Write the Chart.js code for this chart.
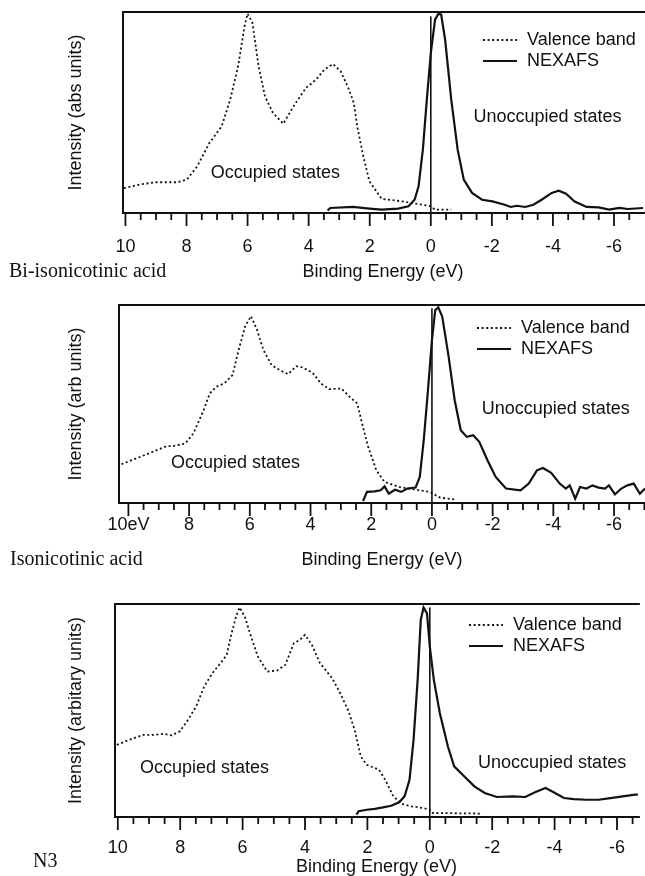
<!DOCTYPE html>
<html>
<head>
<meta charset="utf-8">
<script src="https://cdn.jsdelivr.net/npm/chart.js@4/dist/chart.umd.min.js"></script>
<style>
  html, body { margin: 0; padding: 0; background: #fff; }
  #wrap { position: relative; width: 645px; height: 876px; overflow: hidden; }
  .panel { position: absolute; left: 0; }
</style>
</head>
<body>
<div id="wrap">
  <canvas id="c1" class="panel" width="645" height="290" style="top:0"></canvas>
  <canvas id="c2" class="panel" width="645" height="290" style="top:290px"></canvas>
  <canvas id="c3" class="panel" width="645" height="300" style="top:580px"></canvas>
</div>
<script>
// ---- data -----------------------------------------------------------------
const seriesNames = ['Valence band', 'NEXAFS'];
const tickValues = [10, 8, 6, 4, 2, 0, -2, -4, -6];
const tickLabels1 = ['10', '8', '6', '4', '2', '0', '-2', '-4', '-6'];
const tickLabels2 = ['10eV', '8', '6', '4', '2', '0', '-2', '-4', '-6'];
const tickLabels3 = ['10', '8', '6', '4', '2', '0', '-2', '-4', '-6'];

// Bi-isonicotinic acid
const valenceE1 = [10.05, 9.5, 8.99, 8.32, 7.99, 7.65, 7.25, 6.85, 6.57, 6.31, 6.10, 6.00, 5.84, 5.64, 5.43, 5.17, 4.83, 4.50, 4.09, 3.76, 3.49, 3.20, 2.95, 2.68, 2.52, 2.41, 2.21, 2.01, 1.61, 0.94, 0.26, 0.0, -0.14, -0.67];
const valenceI1 = [12.4, 14.3, 15.3, 15.3, 16.6, 23.2, 34.8, 43.1, 56.4, 73.0, 92.9, 99.2, 94.5, 73.0, 58.0, 49.8, 44.4, 53.0, 62.2, 66.3, 71.3, 74.1, 70.5, 61.4, 54.7, 43.1, 28.2, 15.8, 7.0, 5.8, 4.1, 3.3, 1.7, 1.7];
const nexafsE1 = [3.38, 3.29, 2.55, 2.01, 1.61, 1.07, 0.73, 0.53, 0.40, 0.26, 0.13, 0.0, -0.14, -0.25, -0.34, -0.47, -0.67, -0.88, -1.08, -1.35, -1.68, -2.02, -2.42, -2.62, -2.82, -3.09, -3.36, -3.63, -3.96, -4.19, -4.43, -4.70, -5.10, -5.50, -5.84, -6.18, -6.45, -6.95];
const nexafsI1 = [1.3, 2.5, 3.0, 2.2, 1.7, 2.2, 3.3, 6.6, 13.3, 31.5, 56.4, 79.6, 96.2, 99.2, 98.7, 86.2, 56.4, 31.5, 16.6, 10.0, 6.6, 5.8, 4.1, 3.0, 3.6, 3.0, 4.1, 6.6, 10.0, 11.1, 9.6, 5.8, 3.0, 2.8, 1.7, 2.5, 2.0, 2.5];

// Isonicotinic acid
const valenceE2 = [10.23, 9.76, 9.21, 8.74, 8.54, 8.13, 7.86, 7.52, 7.32, 7.11, 6.84, 6.57, 6.37, 6.16, 5.96, 5.76, 5.55, 5.28, 5.01, 4.74, 4.47, 4.27, 3.93, 3.66, 3.39, 2.98, 2.71, 2.46, 2.30, 2.10, 1.83, 1.56, 1.08, 0.54, 0.07, -0.27, -0.82];
const valenceI2 = [19.6, 22.4, 25.8, 28.7, 28.7, 30.0, 35.1, 46.9, 55.3, 58.7, 60.4, 64.6, 77.2, 89.0, 94.4, 87.4, 77.2, 69.6, 67.1, 65.1, 69.1, 68.5, 65.8, 60.4, 57.5, 57.8, 53.6, 50.3, 40.1, 28.3, 16.5, 10.6, 8.1, 6.7, 5.6, 2.7, 1.7];
const nexafsE2 = [2.27, 2.14, 1.89, 1.69, 1.56, 1.42, 1.22, 1.01, 0.81, 0.54, 0.40, 0.27, 0.13, 0.0, -0.11, -0.21, -0.34, -0.55, -0.75, -0.95, -1.15, -1.36, -1.56, -1.83, -2.10, -2.44, -2.92, -3.19, -3.46, -3.66, -3.93, -4.21, -4.41, -4.54, -4.72, -4.88, -5.09, -5.29, -5.49, -5.70, -5.83, -6.03, -6.24, -6.44, -6.65, -6.85, -7.02];
const nexafsI2 = [1.0, 5.6, 5.9, 6.4, 8.4, 4.7, 6.7, 5.6, 7.3, 7.8, 13.2, 31.7, 57.0, 82.3, 97.5, 98.8, 94.1, 73.9, 51.9, 36.8, 33.4, 34.2, 30.9, 21.6, 13.2, 7.3, 6.4, 9.8, 16.5, 17.7, 15.2, 9.8, 7.3, 8.9, 2.2, 8.1, 7.3, 8.9, 7.8, 7.3, 8.9, 4.4, 7.3, 8.9, 9.8, 4.7, 7.3];

// N3
const valenceE3 = [10.03, 9.57, 9.18, 8.79, 8.53, 8.27, 8.01, 7.75, 7.49, 7.23, 6.97, 6.71, 6.51, 6.38, 6.21, 6.10, 5.93, 5.73, 5.51, 5.21, 4.89, 4.63, 4.36, 4.17, 4.00, 3.78, 3.52, 3.13, 2.87, 2.60, 2.41, 2.21, 2.02, 1.63, 1.43, 1.17, 0.91, 0.59, 0.20, 0.0, -0.06, -1.69];
const valenceI3 = [33.9, 36.6, 38.6, 38.6, 39.1, 38.3, 40.2, 45.6, 51.9, 61.3, 67.5, 72.2, 76.1, 84.7, 94.1, 98.4, 94.1, 84.7, 75.3, 68.3, 68.8, 71.4, 81.6, 83.1, 85.5, 80.8, 72.2, 65.2, 58.1, 49.5, 40.9, 28.4, 24.5, 22.2, 17.5, 9.7, 6.3, 5.0, 4.2, 3.4, 1.9, 1.6];
const nexafsE3 = [2.35, 2.28, 2.02, 1.76, 1.50, 1.24, 0.98, 0.81, 0.65, 0.52, 0.39, 0.29, 0.20, 0.09, 0.0, -0.13, -0.32, -0.58, -0.78, -1.10, -1.43, -1.76, -2.15, -2.67, -3.06, -3.39, -3.71, -3.97, -4.30, -4.62, -5.01, -5.41, -5.79, -6.18, -6.58, -6.67];
const nexafsI3 = [1.1, 2.7, 3.4, 3.8, 4.5, 5.3, 6.9, 9.7, 17.5, 36.3, 64.4, 92.5, 98.4, 95.6, 80.0, 64.4, 48.8, 33.1, 23.8, 19.1, 14.4, 11.3, 9.4, 9.7, 9.4, 11.7, 13.6, 11.6, 8.9, 8.4, 8.1, 8.1, 8.9, 9.7, 10.5, 10.5];

// Fermi level marker (E = 0)
const fermiE = [0, 0];
const fermiI1 = [0, 97.8];
const fermiI2 = [0, 98.3];
const fermiI3 = [0, 98.4];

// ---- layout of the three panels ---------------------------------------------
const SANS = "'Liberation Sans', Arial, Helvetica, sans-serif";
const SERIF = "'Liberation Serif', 'Times New Roman', serif";
const INK = '#111';

const panels = [
  {
    canvas: 'c1', height: 290, boxTop: 12, boxBottom: 213, boxLeft: 123,
    xMax: 10.08, xMin: -6.95, tickPad: 23, titlePad: 7,
    labels: tickLabels1, yTitle: 'Intensity (abs units)',
    name: 'Bi-isonicotinic acid', nameX: 9, nameY: 272,
    legendX: 483, legendY: 40,
    occupied: [5.09, 19.9], unoccupied: [-3.82, 47.8],
    valence: [valenceE1, valenceI1], nexafs: [nexafsE1, nexafsI1], fermi: [fermiE, fermiI1]
  },
  {
    canvas: 'c2', height: 290, boxTop: 15, boxBottom: 213, boxLeft: 119,
    xMax: 10.31, xMin: -7.02, tickPad: 11, titlePad: 9,
    labels: tickLabels2, yTitle: 'Intensity (arb units)',
    name: 'Isonicotinic acid', nameX: 10, nameY: 270,
    legendX: 477, legendY: 38,
    occupied: [6.47, 20.2], unoccupied: [-4.08, 47.5],
    valence: [valenceE2, valenceI2], nexafs: [nexafsE2, nexafsI2], fermi: [fermiE, fermiI2]
  },
  {
    canvas: 'c3', height: 300, boxTop: 24, boxBottom: 237, boxLeft: 115,
    xMax: 10.09, xMin: -6.67, tickPad: 20, titlePad: 2,
    labels: tickLabels3, yTitle: 'Intensity (arbitary units)',
    name: 'N3', nameX: 33, nameY: 282,
    legendX: 469, legendY: 45,
    occupied: [7.22, 23.0], unoccupied: [-3.92, 25.4],
    valence: [valenceE3, valenceI3], nexafs: [nexafsE3, nexafsI3], fermi: [fermiE, fermiI3]
  }
];

const toPoints = (xs, ys) => xs.map((x, i) => ({ x, y: ys[i] }));
const DOT = [2, 2.6];

// frame, minor/major tick marks, inline legend and text labels
function decorPlugin(p) {
  return {
    id: 'decor',
    afterDraw(chart) {
      const ctx = chart.ctx;
      const { left, top, right, bottom } = chart.chartArea;
      const xs = chart.scales.x, ys = chart.scales.y;
      ctx.save();
      ctx.strokeStyle = INK;
      ctx.lineWidth = 2;
      ctx.setLineDash([]);
      ctx.beginPath();
      ctx.moveTo(right + 2, top);
      ctx.lineTo(left, top);
      ctx.lineTo(left, bottom);
      ctx.lineTo(right + 2, bottom);
      ctx.stroke();

      ctx.lineWidth = 1.8;
      for (let v = 10; v >= -7; v -= 0.5) {
        const px = xs.getPixelForValue(v);
        if (px < left + 1 || px > right) continue;
        const len = (v % 2 === 0) ? 13 : 7;
        ctx.beginPath();
        ctx.moveTo(px, bottom);
        ctx.lineTo(px, bottom + len);
        ctx.stroke();
      }

      // legend
      ctx.font = '18px ' + SANS;
      ctx.fillStyle = INK;
      ctx.textBaseline = 'middle';
      ctx.textAlign = 'left';
      const ds = chart.data.datasets;
      [0, 1].forEach((k) => {
        const y = p.legendY + k * 21;
        ctx.lineWidth = ds[k].borderWidth;
        ctx.setLineDash(ds[k].borderDash || []);
        ctx.beginPath();
        ctx.moveTo(p.legendX, y);
        ctx.lineTo(p.legendX + 34, y);
        ctx.stroke();
        ctx.setLineDash([]);
        ctx.fillText(ds[k].label, p.legendX + 44, y);
      });

      // region labels
      ctx.textAlign = 'center';
      ctx.fillText('Occupied states', xs.getPixelForValue(p.occupied[0]), ys.getPixelForValue(p.occupied[1]));
      ctx.fillText('Unoccupied states', xs.getPixelForValue(p.unoccupied[0]), ys.getPixelForValue(p.unoccupied[1]));

      // sample name
      ctx.textAlign = 'left';
      ctx.font = '20px ' + SERIF;
      ctx.fillText(p.name, p.nameX, p.nameY);
      ctx.restore();
    }
  };
}

panels.forEach((p) => {
  new Chart(document.getElementById(p.canvas), {
    type: 'scatter',
    data: {
      datasets: [
        { label: seriesNames[0], data: toPoints(p.valence[0], p.valence[1]), showLine: true,
          borderColor: INK, borderWidth: 1.8, borderDash: DOT, pointRadius: 0, tension: 0 },
        { label: seriesNames[1], data: toPoints(p.nexafs[0], p.nexafs[1]), showLine: true,
          borderColor: INK, borderWidth: 2.2, pointRadius: 0, tension: 0 },
        { label: 'E = 0', data: toPoints(p.fermi[0], p.fermi[1]), showLine: true,
          borderColor: INK, borderWidth: 1.6, pointRadius: 0 }
      ]
    },
    options: {
      responsive: false,
      animation: false,
      devicePixelRatio: 1,
      layout: { padding: { top: p.boxTop, left: 0, right: 0, bottom: 0 } },
      plugins: { legend: { display: false }, tooltip: { enabled: false } },
      scales: {
        x: {
          type: 'linear', reverse: true, min: p.xMin, max: p.xMax,
          afterBuildTicks: (s) => { s.ticks = tickValues.map((v) => ({ value: v })); },
          afterFit: (s) => { s.height = p.height - p.boxBottom; },
          ticks: {
            autoSkip: false, maxRotation: 0, padding: p.tickPad, color: INK,
            font: { family: SANS, size: 18 },
            callback: (v) => p.labels[tickValues.indexOf(v)]
          },
          grid: { display: false, drawTicks: false },
          border: { display: false },
          title: { display: true, text: 'Binding Energy (eV)', color: INK,
                   font: { family: SANS, size: 18 }, padding: { top: 0, bottom: p.titlePad } }
        },
        y: {
          min: 0, max: 100,
          afterFit: (s) => { s.width = p.boxLeft; },
          ticks: { display: false },
          grid: { display: false, drawTicks: false },
          border: { display: false },
          title: { display: true, text: p.yTitle, color: INK,
                   font: { family: SANS, size: 18 }, padding: { top: 65, bottom: 0 } }
        }
      }
    },
    plugins: [decorPlugin(p)]
  });
});
</script>
</body>
</html>
